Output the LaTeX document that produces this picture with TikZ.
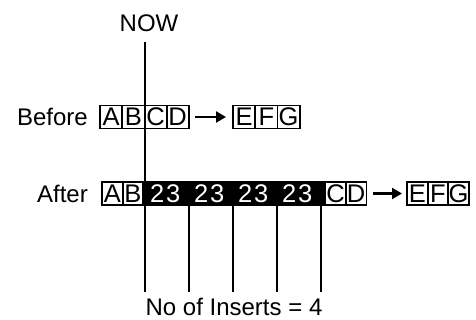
\documentclass[tikz,border=0pt]{standalone}
\usepackage{fontspec}
\setmainfont{Liberation Sans}
\usetikzlibrary{arrows.meta,positioning}
\begin{document}
\begin{tikzpicture}[x=1pt, y=-1pt,
		txt/.style={font=\fontsize{24}{26}\selectfont, inner sep=0pt},
		cell/.style={font=\fontsize{25.5}{27}\selectfont, inner sep=0pt, draw, line width=1.8pt, outer sep=0pt, minimum height=23pt, anchor=west},
		bcell/.style={cell, minimum width=22.2pt},
		acell/.style={cell, minimum width=20.6pt},
		fwd/.style={line width=2.2pt, -{Triangle[length=10pt, width=11pt]}},
		tick/.style={line width=2.2pt}]
	\useasboundingbox (0,0) rectangle (476,320);
	\node[txt] (now) at (149,23) {NOW};
	% before
	\node[txt, anchor=east] (before) at (88,117) {Before};
	\node[bcell] (bA) at (100,117) {A};
	\node[bcell, right=0pt of bA] (bB) {B};
	\node[bcell, right=0pt of bB] (bC) {C};
	\node[bcell, right=0pt of bC] (bD) {D};
	\node[bcell] (bE) at (233,117) {E};
	\node[bcell, right=0pt of bE] (bF) {F};
	\node[bcell, right=0pt of bF] (bG) {G};
	\draw[fwd] ([xshift=6pt]bD.east) -- ([xshift=-7pt]bE.west);
	% after
	\node[txt, anchor=east] (after) at (88,193.5) {After};
	\node[acell] (aA) at (102,193.5) {A};
	\node[acell, right=0pt of aA] (aB) {B};
	\node[cell, fill=black, minimum width=182pt, right=0pt of aB] (ins) {};
	\foreach \i in {0,...,3}
		\node[cell, draw=none, text=white] (pair\i) at (150+44*\i,193.5) {2\kern2pt3};
	\node[acell, right=0pt of ins] (aC) {C};
	\node[acell, right=0pt of aC] (aD) {D};
	\node[acell] (aE) at (407,193.5) {E};
	\node[acell, right=0pt of aE] (aF) {F};
	\node[acell, right=0pt of aF] (aG) {G};
	\draw[fwd] ([xshift=7pt]aD.east) -- ([xshift=-5pt]aE.west);
	% now line and inserts
	\coordinate (nowtop) at (145,42);
	\coordinate (nowbot) at (145,292);
	\draw[tick] (nowtop) -- (nowbot);
	\foreach \x [count=\k] in {189,233,277,321} {
		\coordinate (t\k) at (\x,205);
		\draw[tick] (t\k) -- (t\k |- nowbot);
	}
	\node[txt] (inserts) at (234,307) {No of Inserts = 4};
\end{tikzpicture}
\end{document}
